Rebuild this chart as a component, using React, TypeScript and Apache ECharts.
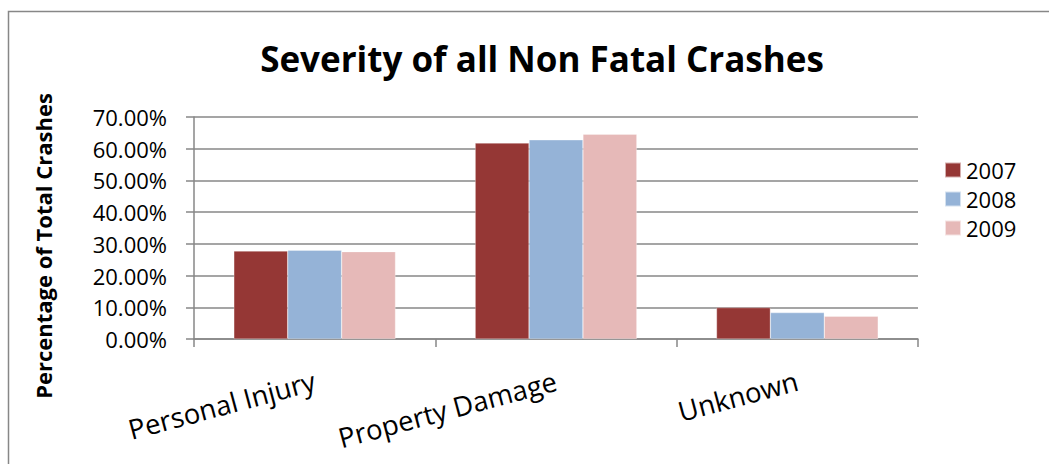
import React, { useEffect, useRef } from "react";
import * as echarts from "echarts";

const categories = ["Personal Injury", "Property Damage", "Unknown"];
const years = ["2007", "2008", "2009"];
const values2007 = [27.75, 61.8, 9.9];
const values2008 = [27.97, 62.8, 8.33];
const values2009 = [27.55, 64.6, 7.17];
const colors = ["#953735", "#95B3D7", "#E6B9B8"];
const yTicks = { min: 0, max: 70, interval: 10 };

const FONT = "Open Sans";
const GRAY = "#878787";

export default function App() {
  const ref = useRef<HTMLDivElement>(null);
  useEffect(() => {
    document.body.style.margin = "0";
    const chart = echarts.init(ref.current!, undefined, { renderer: "svg" });
    const seriesData = [values2007, values2008, values2009];
    chart.setOption({
      animation: false,
      backgroundColor: "#ffffff",
      textStyle: { fontFamily: FONT },
      title: {
        text: "Severity of all Non Fatal Crashes",
        left: 537,
        textAlign: "center",
        top: 36,
        textStyle: { fontFamily: FONT, fontSize: 35, fontWeight: "bold", color: "#000" },
      },
      graphic: [
        {
          type: "rect",
          shape: { x: 8.5, y: 11.5, width: 1050, height: 470 },
          style: { fill: "none", stroke: GRAY, lineWidth: 1.5 },
          silent: true,
        },
      ],
      legend: {
        orient: "vertical",
        left: 944,
        top: 159,
        padding: 0,
        itemWidth: 16,
        itemHeight: 15,
        itemGap: 7,
        icon: "rect",
        data: years,
        textStyle: { fontFamily: FONT, fontSize: 22, color: "#000" },
      },
      grid: { left: 194, right: 131, top: 117, bottom: 125, containLabel: false },
      xAxis: {
        type: "category",
        data: categories,
        axisLine: { show: true, lineStyle: { color: GRAY, width: 1.5 } },
        axisTick: { show: true, length: 8, lineStyle: { color: GRAY, width: 1.5 } },
        axisLabel: {
          rotate: 15,
          margin: 41,
          fontFamily: FONT,
          fontSize: 27.5,
          color: "#000",
          interval: 0,
        },
      },
      yAxis: {
        type: "value",
        min: yTicks.min,
        max: yTicks.max,
        interval: yTicks.interval,
        name: "Percentage of Total Crashes",
        nameLocation: "middle",
        nameGap: 140,
        nameTextStyle: {
          fontFamily: FONT,
          fontSize: 22,
          fontWeight: "bold",
          color: "#000",
          padding: [0, 36, 0, 0],
        },
        axisLine: { show: true, lineStyle: { color: GRAY, width: 1.5 } },
        axisTick: { show: true, length: 8, lineStyle: { color: GRAY, width: 1.5 } },
        splitLine: { show: true, lineStyle: { color: GRAY, width: 1.5 } },
        axisLabel: {
          margin: 27,
          fontFamily: FONT,
          fontSize: 22,
          color: "#000",
          formatter: (v: number) => v.toFixed(2) + "%",
        },
      },
      series: years.map((y, i) => ({
        name: y,
        type: "bar",
        data: seriesData[i],
        barGap: "0%",
        barCategoryGap: "33%",
        itemStyle: { color: colors[i], borderColor: "rgba(255,255,255,0.6)", borderWidth: 0.5 },
      })),
    });
    return () => chart.dispose();
  }, []);
  return <div ref={ref} style={{ width: 1049, height: 464 }} />;
}
